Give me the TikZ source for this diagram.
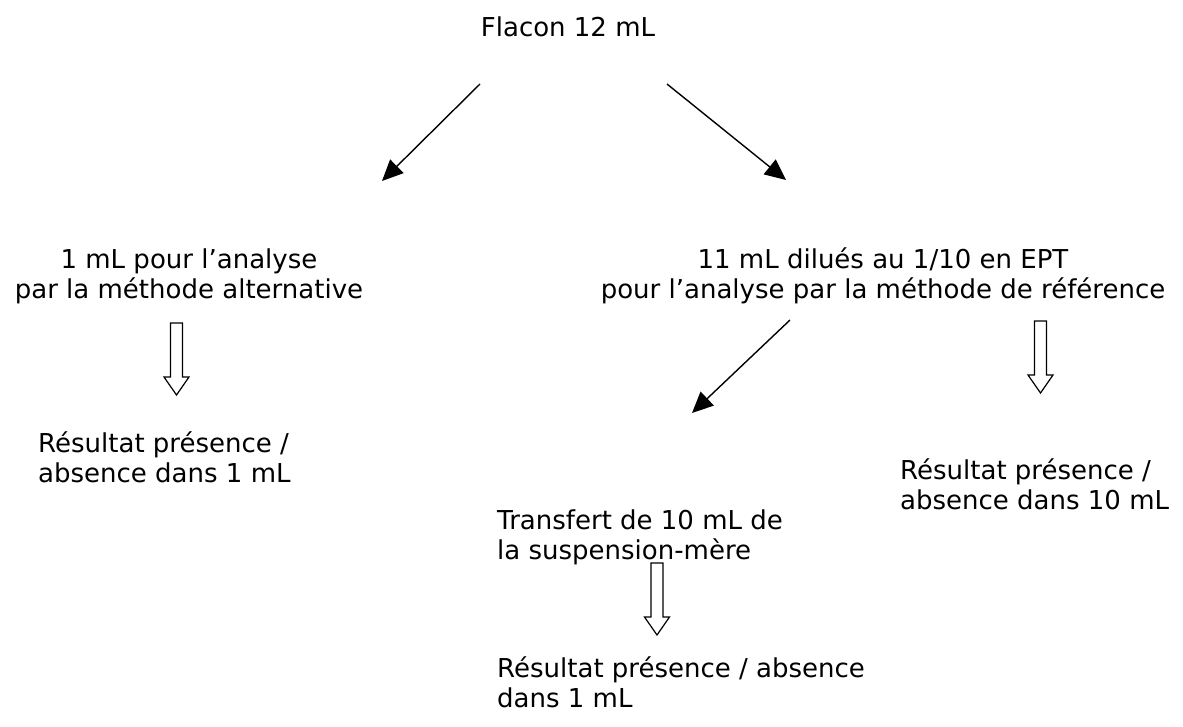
\documentclass[tikz,border=0pt]{standalone}
\usepackage{fontspec}
\setmainfont{DejaVu Sans}
\usetikzlibrary{arrows.meta}
\begin{document}
\begin{tikzpicture}[x=1pt,y=-1pt,
  txt/.style={inner sep=0pt,font=\fontsize{26}{30}\selectfont},
  ctxt/.style={txt,align=center},
  ltxt/.style={txt,align=left},
  thin/.style={line width=1.4pt,-{Triangle[length=21pt,width=19pt]}},
  hollow/.style={draw,line width=1.2pt,line join=miter}]
\useasboundingbox (0,0) rectangle (1183,726);
\node[ctxt] (flacon) at (568,27) {Flacon 12 mL};
\node[ctxt] (alt) at (189,276) {1 mL pour l’analyse\\par la méthode alternative};
\node[ctxt] (ref) at (883,276) {11 mL dilués au 1/10 en EPT\\pour l’analyse par la méthode de référence};
\node[ltxt,anchor=west] (res1) at (38,457) {Résultat présence /\\absence dans 1 mL};
\node[ltxt,anchor=west] (transf) at (497,537) {Transfert de 10 mL de\\la suspension-mère};
\node[ltxt,anchor=west] (res10) at (900,484) {Résultat présence /\\absence dans 10 mL};
\node[ltxt,anchor=west] (res2) at (497,682) {Résultat présence / absence\\dans 1 mL};
\coordinate (a1s) at (480,84);
\coordinate (a1e) at (382,181);
\coordinate (a2s) at (667,84);
\coordinate (a2e) at (786,180);
\coordinate (a3s) at (790,320);
\coordinate (a3e) at (692,413);
\draw[thin] (a1s) -- (a1e);
\draw[thin] (a2s) -- (a2e);
\draw[thin] (a3s) -- (a3e);
% hollow block arrows: top centre (t), length 72
\foreach \nm/\x/\t in {h1/176.5/323, h2/1040.5/321, h3/657/563}{
  \draw[hollow] (\x-6,\t) -- (\x+6,\t) -- (\x+6,\t+54) -- (\x+12.5,\t+54)
    -- (\x,\t+72) -- (\x-12.5,\t+54) -- (\x-6,\t+54) -- cycle;
  \coordinate (\nm) at (\x,\t+36);
}
\end{tikzpicture}
\end{document}
